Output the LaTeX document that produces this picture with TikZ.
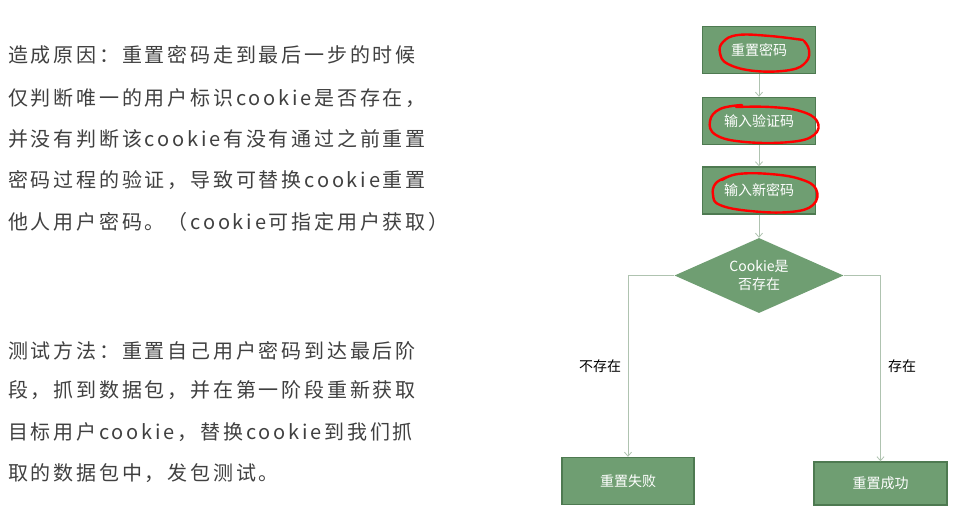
\documentclass[tikz,border=0pt]{standalone}
\usepackage{fontspec}
\setmainfont{Noto Sans CJK SC}
\usetikzlibrary{shapes.geometric,arrows.meta}
\definecolor{boxgreen}{HTML}{6F9E72}
\definecolor{boxedge}{HTML}{4E7A51}
\definecolor{linkgray}{HTML}{AFC3B0}
\definecolor{bodytext}{HTML}{404040}
\begin{document}
\begin{tikzpicture}[x=1pt,y=-1pt,
    stepbox/.style={draw=boxedge,line width=1.4pt,fill=boxgreen,text=white,
        minimum width=113pt,minimum height=47pt,font=\fontsize{14}{17}\selectfont},
    decide/.style={diamond,aspect=2.25,fill=boxgreen,text=white,inner sep=0pt,align=center,
        minimum width=169pt,minimum height=75pt,font=\fontsize{14}{18}\selectfont},
    link/.style={draw=linkgray,line width=0.8pt,-{Straight Barb[length=4pt,width=7pt]}},
    branch/.style={font=\fontsize{14}{17}\selectfont,text=black},
    para/.style={anchor=base west,inner sep=0pt,text=bodytext,
        font=\addfontfeature{LetterSpace=14}\fontsize{20}{24}\selectfont},
    scribble/.style={draw=red,line width=2.4pt,line cap=round,line join=round}]
    \useasboundingbox[fill=white] (0,0) rectangle (969,517);
    % text
    \node[para] (why1) at (8,62.5) {造成原因：重置密码走到最后一步的时候};
    \node[para] (why2) at (8,105) {仅判断唯一的用户标识cookie是否存在，};
    \node[para] (why3) at (8,146) {并没有判断该cookie有没有通过之前重置};
    \node[para] (why4) at (8,187.5) {密码过程的验证，导致可替换cookie重置};
    \node[para] (why5) at (8,229) {他人用户密码。（cookie可指定用户获取）};
    \node[para] (how1) at (8,358) {测试方法：重置自己用户密码到达最后阶};
    \node[para] (how2) at (8,397.5) {段，抓到数据包，并在第一阶段重新获取};
    \node[para] (how3) at (8,439) {目标用户cookie，替换cookie到我们抓};
    \node[para] (how4) at (8,480.5) {取的数据包中，发包测试。};
    % flow
    \node[stepbox] (reset) at (759,50) {重置密码};
    \node[stepbox] (code) at (759,121) {输入验证码};
    \node[stepbox] (newpw) at (759,190.5) {输入新密码};
    \node[decide] (check) at (759,275.5) {Cookie是\\否存在};
    \node[stepbox,minimum width=132pt,minimum height=47pt] (fail) at (628,481) {重置失败};
    \node[stepbox,minimum width=133pt,minimum height=43pt] (done) at (880.5,483.5) {重置成功};
    % links
    \draw[link] (reset) -- (code);
    \draw[link] (code) -- (newpw);
    \draw[link] (newpw) -- (check);
    \draw[link] (check.west) -| (fail.north);
    \draw[link] (check.east) -| (done.north);
    \node[branch] (no) at (600,366) {不存在};
    \node[branch] (yes) at (902,366) {存在};
    % red marks
    \draw[scribble] plot[smooth,tension=0.7] coordinates {(803,40) (770,36) (738,35) (723,42) (720,53) (728,64) (755,71) (790,70) (806,62) (809,50) (804,41)};
    \draw[scribble] plot[smooth,tension=0.7] coordinates {(742,105) (720,109) (710,121) (716,135) (745,142) (790,142) (814,135) (817,121) (800,111) (770,107) (736,107)};
    \draw[scribble] plot[smooth,tension=0.7] coordinates {(730,176) (716,183) (713,195) (720,205) (750,211) (790,212) (813,205) (816,189) (800,179) (770,174) (738,174) (722,180)};
\end{tikzpicture}
\end{document}
